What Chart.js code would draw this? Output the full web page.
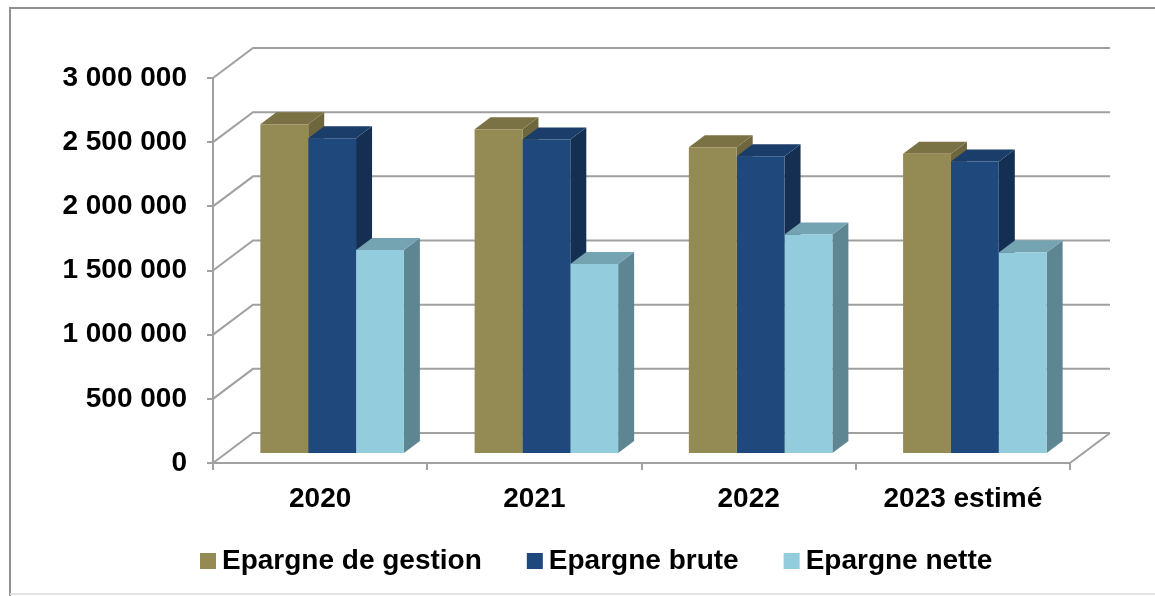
<!DOCTYPE html>
<html>
<head>
<meta charset="utf-8">
<script src="https://cdn.jsdelivr.net/npm/chart.js@4.4.1/dist/chart.umd.min.js"></script>
<style>
html,body{margin:0;padding:0;background:#fff;}
#wrap{width:1155px;height:596px;position:relative;}
</style>
</head>
<body>
<div id="wrap"><canvas id="c" width="1155" height="596"></canvas></div>
<script>
const categories = ['2020', '2021', '2022', '2023 estimé'];
const epargneGestion = [2570000, 2530000, 2390000, 2340000];
const epargneBrute   = [2460000, 2450000, 2320000, 2280000];
const epargneNette   = [1590000, 1480000, 1710000, 1570000];
const seriesNames = ['Epargne de gestion', 'Epargne brute', 'Epargne nette'];
const yTickLabels = ['0', '500 000', '1 000 000', '1 500 000', '2 000 000', '2 500 000', '3 000 000'];

const FONT = '"Liberation Sans", Arial, sans-serif';
const GRID = '#a0a0a0';
// face colours: front, top, side
const faces = [
  ['#948A54', '#7A7244', '#6E673D'],
  ['#1F497D', '#1A3D69', '#152F52'],
  ['#93CDDD', '#74A4B1', '#5E8592']
];
// oblique projection of the wall depth and bar depth
const WALL = {dx: 40, dy: -30};
const BARPOS = {dx: 12, dy: -9};   // bars start at 0.3 of the depth
const BARDEPTH = {dx: 16, dy: -12};

const walls3d = {
  id: 'walls3d',
  beforeDraw(chart) {
    const ctx = chart.ctx;
    ctx.save();
    ctx.fillStyle = '#fff';
    ctx.fillRect(0, 0, chart.width, chart.height);
    ctx.strokeStyle = '#909090';
    ctx.lineWidth = 2;
    ctx.beginPath();
    ctx.moveTo(10, 596); ctx.lineTo(10, 8); ctx.lineTo(1155, 8);
    ctx.stroke();
    ctx.strokeStyle = '#e2e2e2';
    ctx.beginPath();
    ctx.moveTo(10, 594); ctx.lineTo(1155, 594);
    ctx.stroke();
    ctx.restore();
  },
  beforeDatasetsDraw(chart) {
    const ctx = chart.ctx;
    const a = chart.chartArea;
    const ys = chart.scales.y;
    ctx.save();
    ctx.strokeStyle = GRID;
    ctx.lineWidth = 2;
    ctx.beginPath();
    ys.ticks.forEach(t => {
      const py = ys.getPixelForValue(t.value);
      ctx.moveTo(a.left, py);
      ctx.lineTo(a.left + WALL.dx, py + WALL.dy);
      ctx.lineTo(a.right + WALL.dx, py + WALL.dy);
    });
    // right edge of the floor
    const p0 = ys.getPixelForValue(0);
    ctx.moveTo(a.right, p0);
    ctx.lineTo(a.right + WALL.dx, p0 + WALL.dy);
    ctx.stroke();
    ctx.restore();
    ctx.save();
    ctx.translate(BARPOS.dx, BARPOS.dy);
    // side and top faces of every bar, series in left-to-right order
    chart.data.datasets.forEach((ds, di) => {
      const meta = chart.getDatasetMeta(di);
      const col = faces[di];
      meta.data.forEach(bar => {
        const p = bar.getProps(['x', 'y', 'base', 'width'], true);
        const l = p.x - p.width / 2, r = p.x + p.width / 2;
        const top = p.y, base = p.base;
        ctx.fillStyle = col[2];
        ctx.beginPath();
        ctx.moveTo(r, top);
        ctx.lineTo(r + BARDEPTH.dx, top + BARDEPTH.dy);
        ctx.lineTo(r + BARDEPTH.dx, base + BARDEPTH.dy);
        ctx.lineTo(r, base);
        ctx.closePath();
        ctx.fill();
        ctx.fillStyle = col[1];
        ctx.beginPath();
        ctx.moveTo(l, top);
        ctx.lineTo(l + BARDEPTH.dx, top + BARDEPTH.dy);
        ctx.lineTo(r + BARDEPTH.dx, top + BARDEPTH.dy);
        ctx.lineTo(r, top);
        ctx.closePath();
        ctx.fill();
      });
    });
  },
  afterDatasetsDraw(chart) {
    chart.ctx.restore();
  },
  afterDraw(chart) {
    const ctx = chart.ctx;
    ctx.save();
    ctx.font = 'bold 28px ' + FONT;
    ctx.textBaseline = 'alphabetic';
    ctx.fillStyle = '#000';
    let x = 200;
    const boxTop = 553, box = 16, baseY = 569;
    chart.data.datasets.forEach((ds, i) => {
      ctx.fillStyle = faces[i][0];
      ctx.fillRect(x, boxTop, box, box);
      ctx.fillStyle = '#000';
      ctx.fillText(ds.label, x + box + 6, baseY);
      x += box + 6 + ctx.measureText(ds.label).width + 45;
    });
    ctx.restore();
  }
};

const seriesValues = [epargneGestion, epargneBrute, epargneNette];
new Chart(document.getElementById('c'), {
  type: 'bar',
  data: {
    labels: categories,
    datasets: seriesValues.map((vals, i) => ({
      label: seriesNames[i],
      data: vals,
      backgroundColor: faces[i][0],
      borderWidth: 0,
      clip: false,
      categoryPercentage: 0.67,
      barPercentage: 1.0
    }))
  },
  options: {
    responsive: false,
    animation: false,
    layout: {padding: {top: 78, right: 85, left: 0, bottom: 0}},
    plugins: {legend: {display: false}, tooltip: {enabled: false}},
    scales: {
      x: {
        grid: {display: true, drawOnChartArea: false, drawTicks: true, tickLength: 7, color: GRID, lineWidth: 2, offset: true},
        border: {display: true, color: GRID, width: 2},
        ticks: {color: '#000', font: {family: FONT, size: 28, weight: 'bold'}, padding: 12, maxRotation: 0},
        afterFit(s) { s.height = 133; }
      },
      y: {
        min: 0, max: 3000000,
        ticks: {
          stepSize: 500000,
          color: '#000',
          font: {family: FONT, size: 28, weight: 'bold'},
          padding: 20,
          callback: (v, idx) => yTickLabels[idx]
        },
        grid: {display: true, drawOnChartArea: false, drawTicks: true, tickLength: 6, color: GRID, lineWidth: 2},
        border: {display: true, color: GRID, width: 2},
        afterFit(s) { s.width = 213; }
      }
    }
  },
  plugins: [walls3d]
});
</script>
</body>
</html>
